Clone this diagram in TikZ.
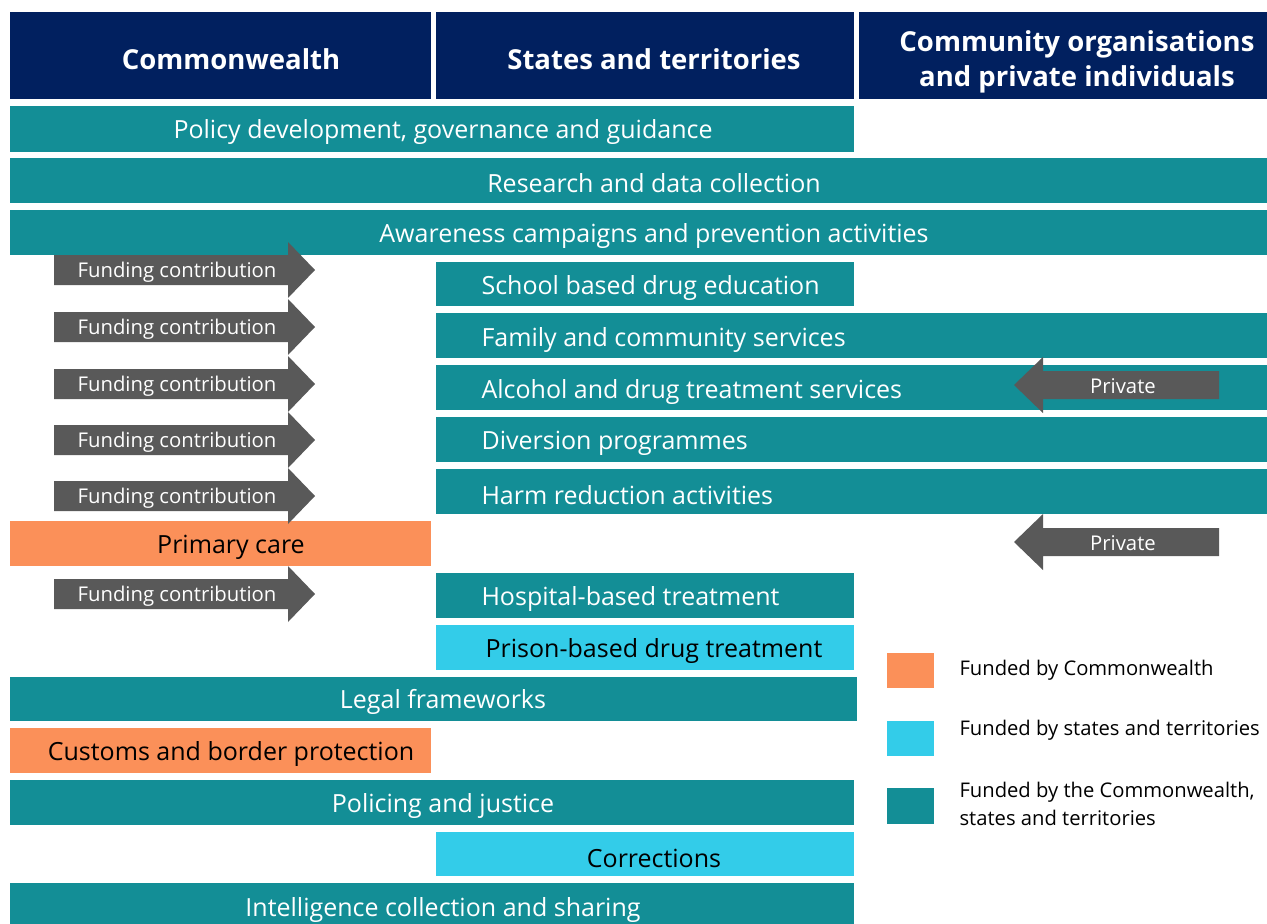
\documentclass[tikz,border=0pt]{standalone}
\usepackage{fontspec}
\setmainfont{Open Sans}
\usetikzlibrary{positioning}

\definecolor{navy}{HTML}{01205F}
\definecolor{tealband}{HTML}{138E96}
\definecolor{orangeband}{HTML}{FB9059}
\definecolor{cyanband}{HTML}{33CCE9}
\definecolor{arrowgrey}{HTML}{595959}

\begin{document}
\begin{tikzpicture}[x=1pt, y=-1pt,
    hdrtext/.style={text=white, font=\fontsize{27.5}{35}\selectfont\bfseries, align=center},
    bandtext/.style={text=white, font=\fontsize{25}{30}\selectfont},
    darktext/.style={text=black, font=\fontsize{25}{30}\selectfont},
    arrowtext/.style={text=white, font=\fontsize{20.3}{24}\selectfont},
    legtext/.style={text=black, font=\fontsize{20.2}{28}\selectfont, align=left, anchor=west}]
    \useasboundingbox (0,0) rectangle (1267,924);
    % column headers
    \fill[navy] (10,12) rectangle (431,99);
    \fill[navy] (436,12) rectangle (854,99);
    \fill[navy] (859,12) rectangle (1267,99);
    \node[hdrtext] (cwlth) at (231,59) {Commonwealth};
    \node[hdrtext] (states) at (654,59) {States and territories};
    \node[hdrtext] (community) at (1077,62) {Community organisations\\and private individuals};
    % bands
    \fill[tealband] (10,106) rectangle (854,152);
    \node[bandtext] (policy) at (443,132) {Policy development, governance and guidance};
    \fill[tealband] (10,158) rectangle (1267,203);
    \node[bandtext] (research) at (654,183) {Research and data collection};
    \fill[tealband] (10,210) rectangle (1267,255);
    \node[bandtext] (awareness) at (654,236) {Awareness campaigns and prevention activities};
    \fill[tealband] (436,262) rectangle (854,306);
    \node[bandtext, anchor=west] (school) at (478,288) {School based drug education};
    \fill[tealband] (436,313) rectangle (1267,358);
    \node[bandtext, anchor=west] (family) at (478,340) {Family and community services};
    \fill[tealband] (436,365) rectangle (1267,410);
    \node[bandtext, anchor=west] (treatment) at (478,392) {Alcohol and drug treatment services};
    \fill[tealband] (436,417) rectangle (1267,462);
    \node[bandtext, anchor=west] (diversion) at (478,443) {Diversion programmes};
    \fill[tealband] (436,469) rectangle (1267,514);
    \node[bandtext, anchor=west] (harm) at (478,495) {Harm reduction activities};
    \fill[orangeband] (10,521) rectangle (431,566);
    \node[darktext] (primary) at (231,547) {Primary care};
    \fill[tealband] (436,573) rectangle (854,618);
    \node[bandtext, anchor=west] (hospital) at (478,599) {Hospital-based treatment};
    \fill[cyanband] (436,625) rectangle (854,670);
    \node[darktext] (prison) at (654,651) {Prison-based drug treatment};
    \fill[tealband] (10,677) rectangle (857,721);
    \node[bandtext] (legal) at (443,702) {Legal frameworks};
    \fill[orangeband] (10,728) rectangle (431,773);
    \node[darktext] (customs) at (231,754) {Customs and border protection};
    \fill[tealband] (10,780) rectangle (854,825);
    \node[bandtext] (policing) at (443,806) {Policing and justice};
    \fill[cyanband] (436,832) rectangle (854,876);
    \node[darktext] (corrections) at (654,858) {Corrections};
    \fill[tealband] (10,883) rectangle (854,935);
    \node[bandtext] (intel) at (443,910) {Intelligence collection and sharing};
    % funding arrows
    \foreach \y/\n in {270/fa, 327/fb, 384/fc, 440/fd, 496/fe, 594/ff} {
        \fill[arrowgrey] (54,\y-15) -- (288,\y-15) -- (288,\y-28) -- (315,\y)
            -- (288,\y+28) -- (288,\y+15) -- (54,\y+15) -- cycle;
        \node[arrowtext] (\n) at (177,\y+2) {Funding contribution};
    }
    % private arrows
    \foreach \y/\n in {385/pa, 542/pb} {
        \fill[arrowgrey] (1219,\y-14) -- (1043,\y-14) -- (1043,\y-28) -- (1014,\y)
            -- (1043,\y+28) -- (1043,\y+14) -- (1219,\y+14) -- cycle;
        \node[arrowtext] (\n) at (1123,\y+1) {Private};
    }
    % legend
    \fill[orangeband] (887,653) rectangle (934,688);
    \node[legtext] (legcw) at (956,670) {Funded by Commonwealth};
    \fill[cyanband] (887,721) rectangle (934,756);
    \node[legtext] (legst) at (956,730) {Funded by states and territories};
    \fill[tealband] (887,788) rectangle (934,824);
    \node[legtext] (legboth) at (956,804) {Funded by the Commonwealth,\\states and territories};
\end{tikzpicture}
\end{document}
